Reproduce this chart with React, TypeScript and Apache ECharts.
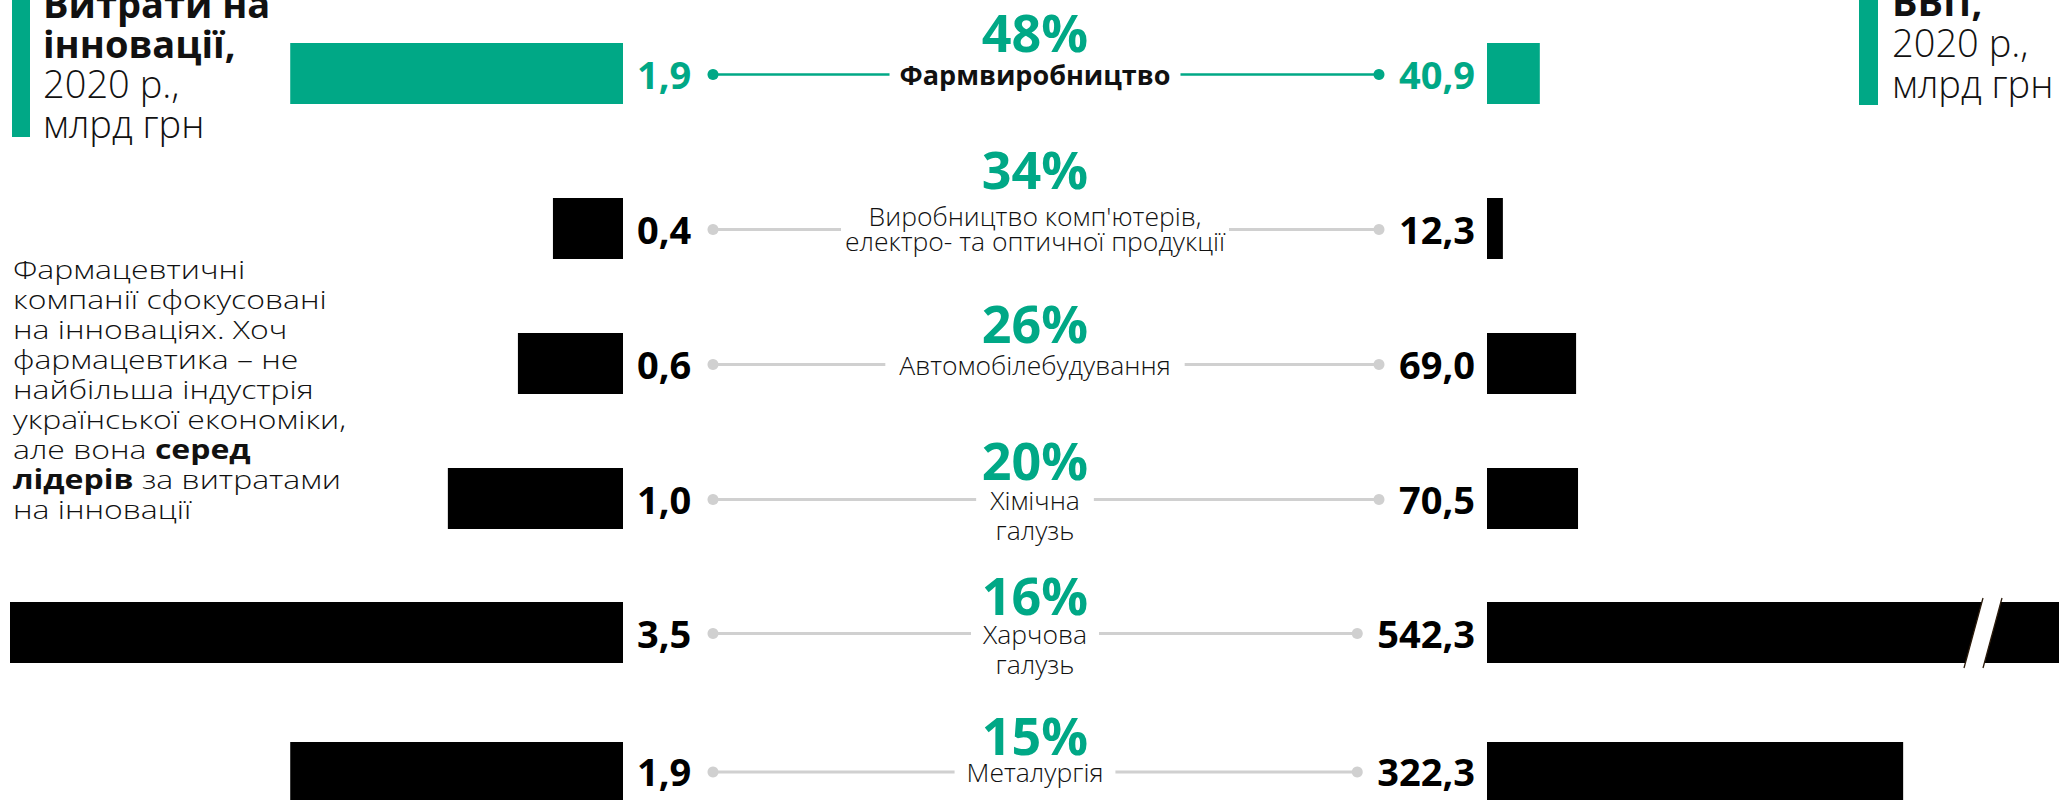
import React, { useEffect, useRef } from 'react';
import * as echarts from 'echarts';

// ---------- data ----------
const categories = [
  'Фармвиробництво',
  "Виробництво комп'ютерів,\nелектро- та оптичної продукції",
  'Автомобілебудування',
  'Хімічна\nгалузь',
  'Харчова\nгалузь',
  'Металургія',
];
const innovationSpend = [1.9, 0.4, 0.6, 1.0, 3.5, 1.9]; // млрд грн
const grossOutput = [40.9, 12.3, 69.0, 70.5, 542.3, 322.3]; // млрд грн
const shareInnovating = [48, 34, 26, 20, 16, 15]; // %
const highlighted = [true, false, false, false, false, false];

const leftTitleBold = ['Витрати на', 'інновації,'];
const leftTitleLight = ['2020 р.,', 'млрд грн'];
const rightTitleBold = ['ВВП,'];
const rightTitleLight = ['2020 р.,', 'млрд грн'];
const noteLines = [
  'Фармацевтичні',
  'компанії сфокусовані',
  'на інноваціях. Хоч',
  'фармацевтика – не',
  'найбільша індустрія',
  'української економіки,',
  'але вона {b|серед}',
  '{b|лідерів} за витратами',
  'на інновації',
];

// ---------- layout / style ----------
const GREEN = '#00a886';
const GRAY = '#d0d0d0';
const INK = '#111111';
const FONT = '"Open Sans", "Noto Sans", sans-serif';
const rowTop = [43, 198, 333, 468, 602, 742];
const BAR_H = 61;
const LEFT_GRID = { left: 10, width: 613 };
const RIGHT_GRID = { left: 1487, width: 572 };
const CENTER_GRID = { left: 713, width: 644 };
const INNOV_MAX = 3.5;
const OUTPUT_MAX = 443;
const VALUE_FONT_SIZE = 38;
const labelLineH = [30, 25, 30, 30, 30, 30];
const labelTopShift = [15, 26, 15, 15, 15, 15];
const labelPad = [10, 4, 14, 14, 12, 12];
const pctShift = [-42, -60, -41, -39, -38, -37];

const fmt = (v: number) => v.toFixed(1).replace('.', ',');

function textWidth(s: string, font: string): number {
  const ctx = document.createElement('canvas').getContext('2d');
  if (!ctx) return s.length * 20;
  ctx.font = font;
  return ctx.measureText(s).width;
}

function buildOption() {
  const grid: any[] = [];
  const xAxis: any[] = [];
  const yAxis: any[] = [];
  const series: any[] = [];
  const valueFont = `bold ${VALUE_FONT_SIZE}px "Open Sans"`;

  categories.forEach((cat, i) => {
    const base = i * 3;
    const hl = highlighted[i];
    grid.push(
      { left: LEFT_GRID.left, width: LEFT_GRID.width, top: rowTop[i], height: BAR_H },
      { left: RIGHT_GRID.left, width: RIGHT_GRID.width, top: rowTop[i], height: BAR_H },
      { left: CENTER_GRID.left, width: CENTER_GRID.width, top: rowTop[i], height: BAR_H }
    );
    xAxis.push(
      { gridIndex: base, type: 'value', min: 0, max: INNOV_MAX, inverse: true, show: false },
      { gridIndex: base + 1, type: 'value', min: 0, max: OUTPUT_MAX, show: false },
      { gridIndex: base + 2, type: 'value', min: 0, max: 1, show: false }
    );
    for (let k = 0; k < 3; k++) {
      yAxis.push({ gridIndex: base + k, type: 'category', data: [cat], show: false });
    }
    const valueColor = hl ? GREEN : '#000';
    series.push({
      type: 'bar',
      name: 'innovation-' + i,
      xAxisIndex: base,
      yAxisIndex: base,
      data: [innovationSpend[i]],
      barWidth: BAR_H,
      silent: true,
      itemStyle: { color: hl ? GREEN : '#000' },
      label: {
        show: true,
        position: 'right',
        distance: 14,
        formatter: (p: any) => fmt(p.value),
        fontSize: VALUE_FONT_SIZE,
        fontWeight: 'bold',
        fontFamily: FONT,
        color: valueColor,
      },
    });
    series.push({
      type: 'bar',
      name: 'output-' + i,
      xAxisIndex: base + 1,
      yAxisIndex: base + 1,
      data: [grossOutput[i]],
      barWidth: BAR_H,
      clip: true,
      silent: true,
      itemStyle: { color: hl ? GREEN : '#000' },
      label: {
        show: true,
        position: 'left',
        distance: 12,
        formatter: (p: any) => fmt(p.value),
        fontSize: VALUE_FONT_SIZE,
        fontWeight: 'bold',
        fontFamily: FONT,
        color: valueColor,
      },
    });
    const rightDotX =
      RIGHT_GRID.left - 12 - textWidth(fmt(grossOutput[i]), valueFont) - 20;
    series.push({
      type: 'custom',
      name: 'connector-' + i,
      xAxisIndex: base + 2,
      yAxisIndex: base + 2,
      silent: true,
      data: [[0.5, 0, shareInnovating[i]]],
      encode: { x: 0, y: 1 },
      renderItem: (params: any, api: any) => {
        const c = api.coord([0.5, 0]);
        const l = api.coord([0, 0]);
        const ly = c[1] + 1;
        const color = hl ? GREEN : GRAY;
        return {
          type: 'group',
          children: [
            {
              type: 'line',
              shape: { x1: l[0], y1: ly, x2: rightDotX, y2: ly },
              style: { stroke: color, lineWidth: hl ? 2.5 : 3 },
            },
            { type: 'circle', shape: { cx: l[0], cy: ly, r: 5.5 }, style: { fill: color } },
            { type: 'circle', shape: { cx: rightDotX, cy: ly, r: 5.5 }, style: { fill: color } },
            {
              type: 'text',
              x: c[0],
              y: ly - labelTopShift[i],
              style: {
                text: cat,
                fontSize: hl ? 27 : 26.5,
                fontWeight: hl ? 'bold' : 300,
                fontFamily: FONT,
                fill: INK,
                align: 'center',
                verticalAlign: 'top',
                lineHeight: labelLineH[i],
                backgroundColor: '#fff',
                padding: [0, labelPad[i]],
              },
            },
            {
              type: 'text',
              x: c[0],
              y: c[1] + pctShift[i],
              style: {
                text: api.value(2) + '%',
                fontSize: 52,
                fontWeight: 'bold',
                fontFamily: FONT,
                fill: GREEN,
                align: 'center',
                verticalAlign: 'middle',
              },
            },
          ],
        };
      },
    });
  });

  const breakTop = rowTop[4] - 4;
  const breakBottom = rowTop[4] + BAR_H + 5;

  const graphic: any[] = [
    { type: 'rect', shape: { x: 12, y: 0, width: 18, height: 137 }, style: { fill: GREEN } },
    {
      type: 'text',
      x: 43,
      y: -17,
      style: {
        text:
          leftTitleBold.map((s) => `{b|${s}}`).join('\n') +
          '\n' +
          leftTitleLight.map((s) => `{r|${s}}`).join('\n'),
        verticalAlign: 'top',
        align: 'left',
        rich: {
          b: { fontSize: 38, fontWeight: 'bold', fontFamily: FONT, fill: INK, lineHeight: 40 },
          r: { fontSize: 38, fontWeight: 300, fontFamily: FONT, fill: INK, lineHeight: 40 },
        },
      },
    },
    { type: 'rect', shape: { x: 1859, y: 0, width: 19, height: 105 }, style: { fill: GREEN } },
    {
      type: 'text',
      x: 1892,
      y: -20,
      style: {
        text:
          rightTitleBold.map((s) => `{b|${s}}`).join('\n') +
          '\n' +
          rightTitleLight.map((s) => `{r|${s}}`).join('\n'),
        verticalAlign: 'top',
        align: 'left',
        rich: {
          b: { fontSize: 38, fontWeight: 'bold', fontFamily: FONT, fill: INK, lineHeight: 41 },
          r: { fontSize: 38, fontWeight: 300, fontFamily: FONT, fill: INK, lineHeight: 41 },
        },
      },
    },
    {
      type: 'text',
      x: 13,
      y: 254,
      scaleX: 1.23,
      style: {
        text: noteLines.join('\n'),
        verticalAlign: 'top',
        align: 'left',
        fontSize: 26,
        fontWeight: 300,
        fontFamily: FONT,
        fill: INK,
        lineHeight: 30,
        rich: {
          b: { fontSize: 26, fontWeight: 'bold', fontFamily: FONT, fill: INK, lineHeight: 30 },
        },
      },
    },
    {
      type: 'polygon',
      z: 100,
      shape: {
        points: [
          [1983, breakTop],
          [2002, breakTop],
          [1983, breakBottom],
          [1964, breakBottom],
        ],
      },
      style: { fill: '#fff' },
    },
    {
      type: 'line',
      z: 101,
      shape: { x1: 1983, y1: breakTop, x2: 1964, y2: breakBottom },
      style: { stroke: '#2a1a0a', lineWidth: 1.3 },
    },
    {
      type: 'line',
      z: 101,
      shape: { x1: 2002, y1: breakTop, x2: 1983, y2: breakBottom },
      style: { stroke: '#2a1a0a', lineWidth: 1.3 },
    },
  ];

  return {
    animation: false,
    backgroundColor: '#fff',
    grid,
    xAxis,
    yAxis,
    series,
    graphic,
  };
}

export default function App() {
  const ref = useRef<HTMLDivElement>(null);
  useEffect(() => {
    if (!ref.current) return;
    const chart = echarts.init(ref.current, undefined, { renderer: 'svg' });
    chart.setOption(buildOption() as any);
    return () => chart.dispose();
  }, []);
  return (
    <div
      ref={ref}
      style={{ position: 'absolute', left: 0, top: 0, width: 2067, height: 800 }}
    />
  );
}
